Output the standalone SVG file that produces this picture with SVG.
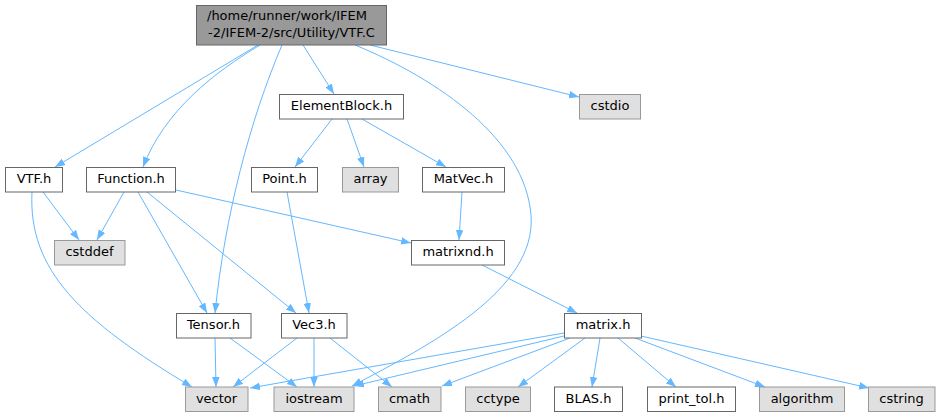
<svg xmlns="http://www.w3.org/2000/svg" width="941" height="417" viewBox="0 0 941 417">
<style>
.n rect{fill:#ffffff;stroke:#666666;stroke-width:1}
.g rect{fill:#e0e0e0;stroke:#999999;stroke-width:1}
.r rect{fill:#999999;stroke:#666666;stroke-width:1}
text{font-family:"DejaVu Sans","Liberation Sans",sans-serif;font-size:13px;fill:#000000;text-anchor:middle}
.e path{fill:none;stroke:#63b8ff;stroke-width:1;marker-end:url(#ah)}
</style>
<defs>
<marker id="ah" markerUnits="userSpaceOnUse" markerWidth="11" markerHeight="8" refX="10" refY="3.75" orient="auto">
<path d="M0,0 L10,3.75 L0,7.5 z" fill="#63b8ff" stroke="none"/>
</marker>
</defs>
<rect width="941" height="417" fill="#ffffff"/>
<g class="e" id="edges">
<path d="M258,45 L55,167"/>
<path d="M260,45 C215,72 165,110 143,167"/>
<path d="M282,45 C250,120 225,215 215,313"/>
<path d="M303,45 L334,94"/>
<path d="M355,45 C440,80 525,140 531,215 C537,290 430,345 352,386"/>
<path d="M370,45 L579,97"/>
<path d="M332,119 L295,167"/>
<path d="M347,119 L364,167"/>
<path d="M362,119 L446,167"/>
<path d="M43,192 L79,240"/>
<path d="M32,192 C28,270 80,320 192,387"/>
<path d="M124,192 L97,240"/>
<path d="M176,190 L411,243"/>
<path d="M138,192 L207,313"/>
<path d="M147,192 L296,313"/>
<path d="M287,192 L309,313"/>
<path d="M462,192 L459,240"/>
<path d="M482,265 L577,313"/>
<path d="M215,338 L216,387"/>
<path d="M230,338 L297,387"/>
<path d="M297,338 L233,387"/>
<path d="M314,338 L314,387"/>
<path d="M330,338 L392,387"/>
<path d="M564,333 L250,388"/>
<path d="M564,336 L354,386"/>
<path d="M570,338 L442,386"/>
<path d="M585,338 L518,387"/>
<path d="M600,338 L592,387"/>
<path d="M618,338 L676,387"/>
<path d="M635,338 L765,387"/>
<path d="M641,336 L869,388"/>
</g>
<g id="root" class="r"><rect x="196.5" y="5.5" width="190" height="39.5"/><text x="207" y="20" style="text-anchor:start">/home/runner/work/IFEM</text><text x="291.5" y="37">-2/IFEM-2/src/Utility/VTF.C</text></g>
<g id="ElementBlock" class="n"><rect x="279.5" y="94.5" width="124" height="24.5"/><text x="341.5" y="110">ElementBlock.h</text></g>
<g id="cstdio" class="g"><rect x="579.5" y="94.5" width="61" height="24.5"/><text x="610" y="110">cstdio</text></g>
<g id="VTF" class="n"><rect x="5.5" y="167.5" width="57" height="24.5"/><text x="34" y="183">VTF.h</text></g>
<g id="Function" class="n"><rect x="86.5" y="167.5" width="89" height="24.5"/><text x="131" y="183">Function.h</text></g>
<g id="Point" class="n"><rect x="251.5" y="167.5" width="66" height="24.5"/><text x="284.5" y="183">Point.h</text></g>
<g id="array" class="g"><rect x="342.5" y="167.5" width="56" height="24.5"/><text x="370.5" y="183">array</text></g>
<g id="MatVec" class="n"><rect x="422.5" y="167.5" width="82" height="24.5"/><text x="463.5" y="183">MatVec.h</text></g>
<g id="cstddef" class="g"><rect x="54.5" y="240.5" width="70.5" height="24.5"/><text x="89.5" y="256">cstddef</text></g>
<g id="matrixnd" class="n"><rect x="411.5" y="240.5" width="93" height="24.5"/><text x="458" y="256">matrixnd.h</text></g>
<g id="Tensor" class="n"><rect x="176.5" y="313.5" width="74.5" height="24.5"/><text x="213.5" y="329">Tensor.h</text></g>
<g id="Vec3" class="n"><rect x="281.5" y="313.5" width="65.5" height="24.5"/><text x="314" y="329">Vec3.h</text></g>
<g id="matrix" class="n"><rect x="564.5" y="313.5" width="77" height="24.5"/><text x="603" y="329">matrix.h</text></g>
<g id="vector" class="g"><rect x="185.5" y="387" width="62.5" height="24.5"/><text x="216.5" y="403">vector</text></g>
<g id="iostream" class="g"><rect x="274" y="387" width="80" height="24.5"/><text x="314" y="403">iostream</text></g>
<g id="cmath" class="g"><rect x="378.5" y="387" width="62.5" height="24.5"/><text x="409.5" y="403">cmath</text></g>
<g id="cctype" class="g"><rect x="465.5" y="387" width="65" height="24.5"/><text x="498" y="403">cctype</text></g>
<g id="BLAS" class="n"><rect x="554.5" y="387" width="68" height="24.5"/><text x="588.5" y="403">BLAS.h</text></g>
<g id="print_tol" class="n"><rect x="647.5" y="387" width="88" height="24.5"/><text x="691.5" y="403">print_tol.h</text></g>
<g id="algorithm" class="g"><rect x="759.5" y="387" width="85" height="24.5"/><text x="802" y="403">algorithm</text></g>
<g id="cstring" class="g"><rect x="868.5" y="387" width="66.5" height="24.5"/><text x="901.5" y="403">cstring</text></g>
</svg>
